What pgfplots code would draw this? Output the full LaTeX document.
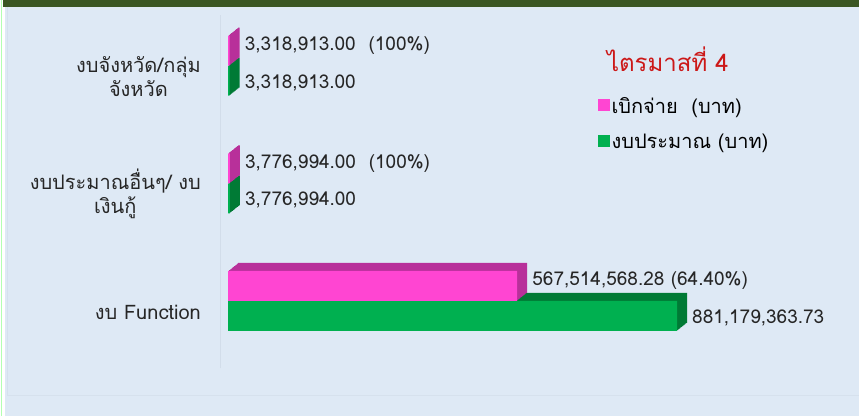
\documentclass[border=0pt]{standalone}
\usepackage{pgfplots}
\pgfplotsset{compat=1.18}
\usepackage{fontspec}
\setmainfont[Script=Thai]{Loma}
\definecolor{bgblue}{HTML}{DEE9F5}
\definecolor{hdrgreen}{HTML}{3A5623}
\definecolor{pinkf}{HTML}{FF45D2}
\definecolor{pinkd}{HTML}{B8309A}
\definecolor{greenf}{HTML}{00B050}
\definecolor{greend}{HTML}{007A35}
\definecolor{faint}{HTML}{D2DDEA}
\definecolor{titlered}{HTML}{CC1818}
\begin{document}
\begin{tikzpicture}
\fill[bgblue] (0pt,0pt) rectangle (859pt,416pt);
\path[use as bounding box] (0pt,0pt) rectangle (859pt,416pt);
\fill[white] (0pt,0pt) rectangle (4.5pt,416pt);
\draw[green!30!white, line width=0.8pt] (1.6pt,0pt) -- (1.6pt,416pt);
\fill[hdrgreen] (3pt,409pt) rectangle (859pt,416pt);
\draw[faint!70!bgblue, line width=0.8pt] (7pt,20.5pt) -- (859pt,20.5pt);
\draw[faint!70!bgblue, line width=0.8pt] (7pt,20.5pt) -- (7pt,409pt);
\begin{axis}[
  at={(220pt,48pt)}, anchor=south west,
  scale only axis, width=630pt, height=353pt,
  xmin=-15.7e6, xmax=1.2207e9,
  ymin=-0.57, ymax=2.43,
  axis x line=none,
  axis y line*=left,
  y axis line style={faint, line width=0.8pt, -},
  ytick={0,1,2},
  yticklabels={{งบ Function},{งบประมาณอื่นๆ/ งบ\\เงินกู้},{งบจังหวัด/กลุ่ม\\จังหวัด}},
  major tick length=0pt,
  yticklabel style={align=center, inner sep=0pt, xshift=-19pt, yshift=-11pt,
     font=\fontsize{20}{24}\selectfont, text=black!85},
  xbar, bar width=30pt,
  clip=false,
  legend style={at={(0.599,0.773)}, anchor=north west, draw=none, fill=none,
     font=\fontsize{20}{24}\selectfont, row sep=15pt, inner sep=0pt,
     /tikz/every even column/.append style={column sep=2pt}},
  legend cell align=left,
  legend image code/.code={\fill[#1] (0pt,-5pt) rectangle (12pt,7pt);},
]
\addlegendimage{fill=pinkf, draw=none}
\addlegendentry{เบิกจ่าย\ \ (บาท)}
\addlegendimage{fill=greenf, draw=none}
\addlegendentry{งบประมาณ (บาท)}
% green depth
\pgfplotsinvokeforeach{1,...,10}{
\addplot[forget plot, fill=greend, draw=none, bar shift=-15pt, xshift=#1pt, yshift=0.8*#1pt]
  coordinates {(3318913.00,2) (3776994.00,1) (881179363.73,0)};
}
% green front
\addplot[forget plot, fill=greenf, draw=none, bar shift=-15pt,
  point meta=explicit symbolic, nodes near coords,
  every node near coord/.append style={anchor=west, inner sep=0pt, xshift=15pt, yshift=-2pt,
     font=\fontsize{19}{22}\selectfont, text=black!85}]
  coordinates {(3318913.00,2) [3,318,913.00] (3776994.00,1) [3,776,994.00] (881179363.73,0) [881,179,363.73]};
% pink depth
\pgfplotsinvokeforeach{1,...,10}{
\addplot[forget plot, fill=pinkd, draw=none, bar shift=15pt, xshift=#1pt, yshift=0.8*#1pt]
  coordinates {(3318913.00,2) (3776994.00,1) (567514568.28,0)};
}
% pink front
\addplot[forget plot, fill=pinkf, draw=none, bar shift=15pt,
  point meta=explicit symbolic, nodes near coords,
  every node near coord/.append style={anchor=west, inner sep=0pt, xshift=15pt, yshift=5pt,
     font=\fontsize{19}{22}\selectfont, text=black!85}]
  coordinates {(3318913.00,2) [3,318,913.00\ \ (100\%)] (3776994.00,1) [3,776,994.00\ \ (100\%)] (567514568.28,0) [567,514,568.28 (64.40\%)]};
\node[text=titlered, font=\fontsize{24}{28}\selectfont] at (rel axis cs:0.711,0.875) {ไตรมาสที่ 4};
\end{axis}
\end{tikzpicture}
\end{document}
